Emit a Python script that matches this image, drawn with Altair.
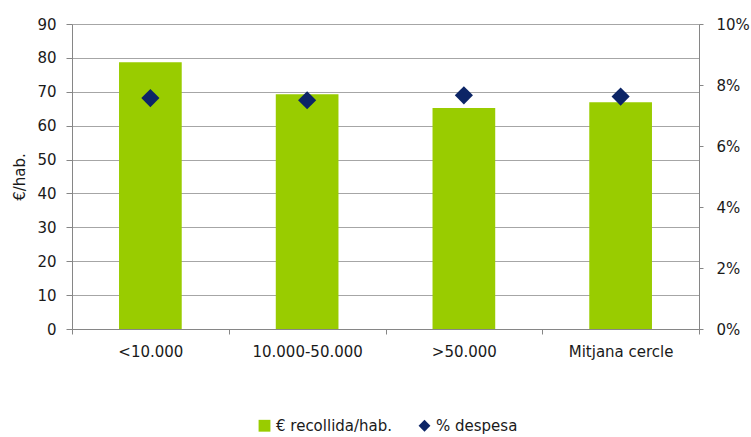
import altair as alt
import pandas as pd

# Municipality size groups
categories = ["<10.000", "10.000-50.000", ">50.000", "Mitjana cercle"]
# € collected per inhabitant (left axis)
euros_per_hab = [78.7, 69.3, 65.2, 66.9]
# Share of expenditure (right axis)
pct_despesa = [0.0757, 0.0750, 0.0766, 0.0762]

bar_series = "€ recollida/hab."
point_series = "% despesa"

bars_df = pd.DataFrame({"cat": categories, "value": euros_per_hab, "series": bar_series})
points_df = pd.DataFrame({"cat": categories, "value": pct_despesa, "series": point_series})

FONT = "DejaVu Sans"
AXIS_GRAY = "#868686"
GRID_GRAY = "#a6a6a6"
TEXT = "#1a1a1a"
GREEN = "#99cc00"
NAVY = "#0c2566"

series_domain = [bar_series, point_series]
color_scale = alt.Scale(domain=series_domain, range=[GREEN, NAVY])
shape_scale = alt.Scale(domain=series_domain, range=["square", "diamond"])

x_enc = alt.X(
    "cat:N",
    sort=categories,
    title=None,
    scale=alt.Scale(paddingInner=0, paddingOuter=0),
    axis=alt.Axis(
        labelAngle=0,
        tickBand="extent",
        tickSize=5,
        tickColor=AXIS_GRAY,
        domainColor=AXIS_GRAY,
        labelPadding=10,
        labelFontSize=15,
        labelColor=TEXT,
        labelFont=FONT,
    ),
)

legend = alt.Legend(
    title=None,
    orient="none",
    direction="horizontal",
    legendX=185,
    legendY=394,
    labelFont=FONT,
    labelFontSize=15,
    labelColor=TEXT,
    symbolSize=140,
    labelOffset=4,
    columnPadding=24,
    padding=0,
)

bars = (
    alt.Chart(bars_df)
    .mark_bar(width=alt.RelativeBandSize(0.4))
    .encode(
        x=x_enc,
        y=alt.Y(
            "value:Q",
            title="€/hab.",
            scale=alt.Scale(domain=[0, 90], nice=False),
            axis=alt.Axis(
                values=list(range(0, 91, 10)),
                grid=True,
                gridColor=GRID_GRAY,
                domainColor=AXIS_GRAY,
                tickColor=AXIS_GRAY,
                tickSize=6,
                labelPadding=10,
                labelFontSize=15,
                labelColor=TEXT,
                labelFont=FONT,
                titleFont=FONT,
                titleFontSize=15,
                titleFontWeight="normal",
                titleColor=TEXT,
                titlePadding=9,
            ),
        ),
        color=alt.Color("series:N", scale=color_scale, legend=legend),
    )
)

points = (
    alt.Chart(points_df)
    .mark_point(filled=True, size=330, opacity=1)
    .encode(
        x=x_enc,
        y=alt.Y(
            "value:Q",
            title=None,
            scale=alt.Scale(domain=[0, 0.1], nice=False),
            axis=alt.Axis(
                orient="right",
                values=[0, 0.02, 0.04, 0.06, 0.08, 0.1],
                format=".0%",
                grid=False,
                domainColor=AXIS_GRAY,
                tickColor=AXIS_GRAY,
                tickSize=4,
                labelPadding=13,
                labelFontSize=15,
                labelColor=TEXT,
                labelFont=FONT,
            ),
        ),
        color=alt.Color("series:N", scale=color_scale, legend=legend),
        shape=alt.Shape("series:N", scale=shape_scale, legend=legend),
    )
)

chart = (
    alt.layer(bars, points)
    .resolve_scale(y="independent")
    .properties(
        width=627,
        height=305,
        autosize=alt.AutoSizeParams(type="none"),
        padding={"left": 72, "top": 24, "right": 52, "bottom": 108},
    )
    .configure_view(stroke=None)
    .configure(background="white")
)

chart.save("out.html", embed_options={"renderer": "svg", "actions": False})
